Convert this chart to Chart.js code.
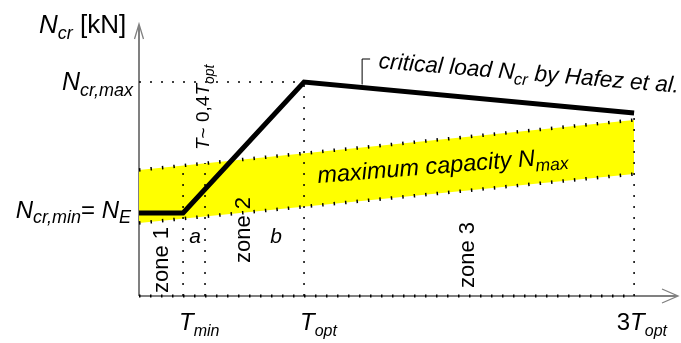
<!DOCTYPE html>
<html>
<head>
<meta charset="utf-8">
<script src="https://cdn.jsdelivr.net/npm/chart.js@4"></script>
<style>
  html, body { margin: 0; padding: 0; background: #fff; }
  #wrap { width: 681px; height: 343px; }
</style>
</head>
<body>
<div id="wrap"><canvas id="chart"></canvas></div>
<script>
// periods, in units of T_opt
const T_MIN = 0.267;
const T_A = 0.4;
const T_OPT = 1;
const T_END = 3;

// critical load N_cr by Hafez et al. (relative units)
const critX = [0, T_MIN, T_OPT, T_END];
const critY = [0.83, 0.83, 2.14, 1.83];

// maximum capacity band N_max
const bandX = [0, T_END];
const bandLow = [0.73, 1.22];
const bandHigh = [1.26, 1.76];

// dotted guide lines (x and where they stop)
const guideX = [T_MIN, T_A, T_OPT, T_END];
const guideTop = [1.31, 1.33, 2.14, 1.83];

// x tick labels: prefix, letter, subscript
const xTicks = [T_MIN, T_OPT, T_END];
const xTickText = [["", "T", "min"], ["", "T", "opt"], ["3", "T", "opt"]];

const FAM = '"Liberation Sans", Arial, sans-serif';
const it = s => `italic ${s}px ${FAM}`;
const rg = s => `${s}px ${FAM}`;
const AXIS = '#808080';

const pts = (xs, ys) => xs.map((x, i) => ({ x: x, y: ys[i] }));

// draw a run of text pieces [text, font, dy]
function rich(ctx, parts, x, y, angle, align) {
    ctx.save();
    ctx.translate(x, y);
    ctx.rotate(angle || 0);
    ctx.fillStyle = '#000';
    ctx.textAlign = 'left';
    ctx.textBaseline = 'alphabetic';
    let w = 0;
    parts.forEach(p => { ctx.font = p[1]; w += ctx.measureText(p[0]).width; });
    let cx = align === 'right' ? -w : align === 'center' ? -w / 2 : 0;
    parts.forEach(p => {
        ctx.font = p[1];
        ctx.fillText(p[0], cx, p[2] || 0);
        cx += ctx.measureText(p[0]).width;
    });
    ctx.restore();
}

const axesPlugin = {
    id: 'axes',
    beforeDatasetsDraw: (chart) => {
        const { ctx, chartArea: ca } = chart;
        ctx.save();
        ctx.strokeStyle = AXIS;
        ctx.lineWidth = 2;
        ctx.beginPath();
        ctx.moveTo(ca.left, ca.bottom);
        ctx.lineTo(ca.left, ca.top);
        ctx.moveTo(ca.left, ca.bottom);
        ctx.lineTo(ca.right, ca.bottom);
        ctx.stroke();
        ctx.lineWidth = 1.3;
        ctx.beginPath();
        ctx.moveTo(ca.left - 4.5, ca.top + 14);
        ctx.lineTo(ca.left, ca.top - 1);
        ctx.lineTo(ca.left + 4.5, ca.top + 14);
        ctx.moveTo(ca.right - 15, ca.bottom - 7);
        ctx.lineTo(ca.right + 1, ca.bottom);
        ctx.lineTo(ca.right - 15, ca.bottom + 7);
        ctx.stroke();
        ctx.restore();
    }
};

const textPlugin = {
    id: 'texts',
    afterDatasetsDraw: (chart) => {
        const { ctx, chartArea: ca } = chart;
        const px = v => chart.scales.x.getPixelForValue(v);
        const py = v => chart.scales.y.getPixelForValue(v);

        // y axis title and values
        rich(ctx, [['N', it(26)], ['cr', it(18), 6], [' [kN]', rg(26)]], ca.left - 100, ca.top + 8);
        rich(ctx, [['N', it(25)], ['cr,max', it(18), 6]], ca.left - 6, py(critY[2]) + 8, 0, 'right');
        rich(ctx, [['N', it(24)], ['cr,min', it(18), 5], ['= ', rg(24)], ['N', it(24)], ['E', it(18), 5]],
            ca.left - 8, py(critY[0]) + 5, 0, 'right');

        // x tick labels
        xTicks.forEach((v, i) => {
            const [pre, letter, sub] = xTickText[i];
            ctx.font = rg(24);
            const pw = ctx.measureText(pre).width;
            rich(ctx, [[pre, rg(24)], [letter, it(24)], [sub, it(16), 6]], px(v) - 4 - pw, ca.bottom + 34);
        });

        // zones
        const up = -Math.PI / 2;
        rich(ctx, [['zone 1', rg(22)]], px(0.14) + 6, py(0.03), up);
        rich(ctx, [['zone 2', rg(22)]], px(0.63) + 7, py(0.33), up);
        rich(ctx, [['zone 3', rg(22)]], px(1.98) + 8, py(0.08), up);
        rich(ctx, [['a', it(21)]], px(0.34), py(0.53), 0, 'center');
        rich(ctx, [['b', it(21)]], px(0.83), py(0.53), 0, 'center');
        rich(ctx, [['T', it(19)], ['~ 0,4', rg(19)], ['T', it(19)], ['opt', it(14), 5]], px(T_A) + 4, py(1.46), up);

        // critical load label with leader
        rich(ctx, [['critical load N', it(22.7)], ['cr', it(16.5), 5], [' by Hafez et al.', it(22.7)]],
            px(1.45), py(2.28), 0.082);
        ctx.save();
        ctx.strokeStyle = '#000';
        ctx.lineWidth = 1;
        ctx.beginPath();
        ctx.moveTo(px(1.352), py(2.085) - 3);
        ctx.lineTo(px(1.352), py(2.37));
        ctx.lineTo(px(1.352) + 8, py(2.37));
        ctx.stroke();
        ctx.restore();

        // band label
        rich(ctx, [['maximum capacity N', it(23.5)], ['max', it(17.5), 6]], px(1.085), py(1.13), -0.08);
    }
};

const guides = guideX.map((x, i) => ({
    data: [{ x: x, y: 0 }, { x: x, y: guideTop[i] }],
    borderColor: '#000',
    borderWidth: 1.5,
    borderDash: [2, 9],
    order: 3
}));

new Chart(document.getElementById('chart'), {
    type: 'line',
    data: {
        datasets: [
            {
                data: pts(critX, critY),
                borderColor: '#000',
                borderWidth: 5,
                borderJoinStyle: 'miter',
                order: 0
            },
            {
                // dots along the time axis
                data: [{ x: 0, y: 0 }, { x: T_END, y: 0 }],
                borderColor: '#000',
                borderWidth: 3,
                borderDash: [1.5, 9.5],
                order: 2
            },
            {
                data: [{ x: 0, y: critY[2] }, { x: T_OPT, y: critY[2] }],
                borderColor: '#000',
                borderWidth: 1.5,
                borderDash: [2, 9],
                order: 3
            },
            ...guides,
            {
                data: pts(bandX, bandLow),
                borderColor: '#000',
                borderWidth: 3.5,
                borderDash: [1.5, 10],
                fill: false,
                order: 5
            },
            {
                data: pts(bandX, bandHigh),
                borderColor: '#000',
                borderWidth: 3.5,
                borderDash: [1.5, 10],
                backgroundColor: '#ffff00',
                fill: '-1',
                order: 6
            }
        ]
    },
    options: {
        responsive: true,
        maintainAspectRatio: false,
        animation: false,
        events: [],
        layout: { padding: { left: 139, right: 4, top: 25, bottom: 47 } },
        elements: { point: { radius: 0 }, line: { tension: 0 } },
        datasets: { line: { clip: false } },
        scales: {
            x: { type: 'linear', min: 0, max: 3.26, display: false },
            y: { type: 'linear', min: 0, max: 2.71, display: false }
        },
        plugins: {
            legend: { display: false },
            tooltip: { enabled: false }
        }
    },
    plugins: [axesPlugin, textPlugin]
});
</script>
</body>
</html>
